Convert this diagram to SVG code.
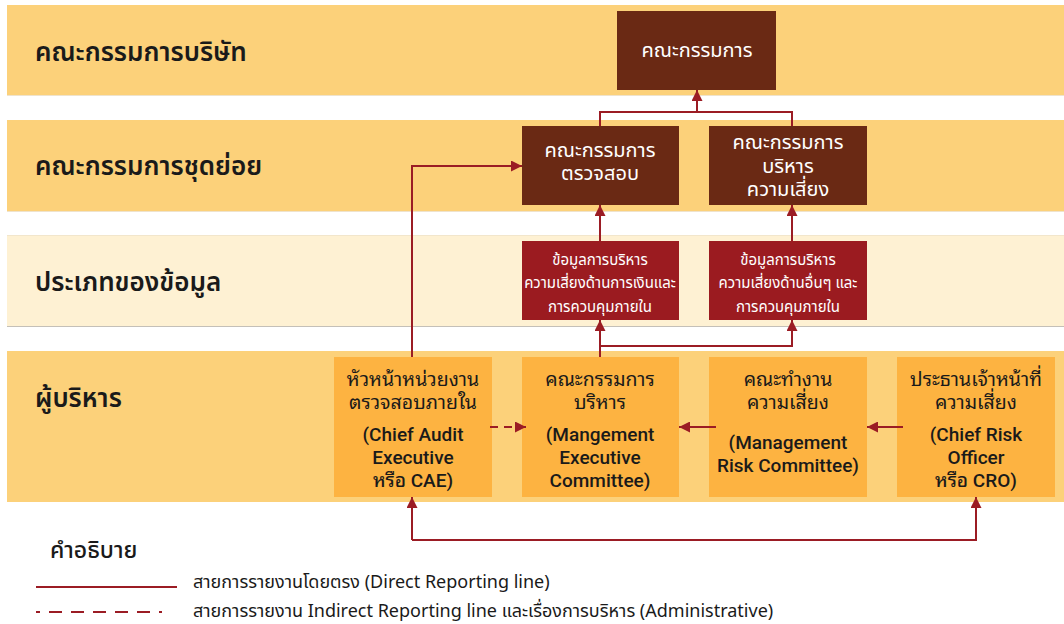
<svg xmlns="http://www.w3.org/2000/svg" width="1064" height="624" viewBox="0 0 1064 624">
<defs>
<style>
.band{fill:#FCD17A}
.bandl{fill:#FEF1D3}
.blabel{font-family:"Noto Sans Thai","Noto Sans Thai Looped","Noto Sans","DejaVu Sans",sans-serif;font-size:26px;font-weight:600;fill:#1a1a1a}
.brown{fill:#6A2914}
.red{fill:#9B1B20}
.orange{fill:#FDB341}
.wt{font-family:"Noto Sans Thai","Noto Sans Thai Looped","Noto Sans","DejaVu Sans",sans-serif;fill:#ffffff;text-anchor:middle}
.th{font-family:"Noto Sans Thai Looped","Noto Sans Thai","Noto Sans","DejaVu Sans",sans-serif;font-size:19.5px;fill:#1a1a1a;text-anchor:middle}
.en{font-family:Roboto,"Liberation Sans","Noto Sans Thai Looped","Noto Sans Thai",sans-serif;font-size:19px;font-weight:500;fill:#1a1a1a;text-anchor:middle}
.conn{fill:none;stroke:#9B1C24;stroke-width:2}
.dash{stroke-dasharray:8 6}
.leg{font-family:"Noto Sans Thai","Noto Sans Thai Looped","Noto Sans",sans-serif;font-size:18px;fill:#1a1a1a}
.legt{font-family:"Noto Sans Thai","Noto Sans Thai Looped","Noto Sans",sans-serif;font-size:23px;font-weight:500;fill:#1a1a1a}
</style>
<marker id="arr" viewBox="0 0 10 10" refX="10" refY="5" markerWidth="11" markerHeight="11" markerUnits="userSpaceOnUse" orient="auto">
<path d="M0,0 L10,5 L0,10 z" fill="#9B1C24"/>
</marker>
</defs>
<rect width="1064" height="624" fill="#ffffff"/>

<g id="bands">
<rect class="band" x="7" y="5" width="1057" height="90"/>
<line x1="7" y1="95.5" x2="1064" y2="95.5" stroke="#EFE3CC" stroke-width="1"/>
<rect class="band" x="7" y="120" width="1057" height="91"/>
<line x1="7" y1="211.5" x2="1064" y2="211.5" stroke="#EFE3CC" stroke-width="1"/>
<rect class="bandl" x="7" y="235" width="1057" height="91"/>
<line x1="7" y1="235.5" x2="1064" y2="235.5" stroke="#F2E6CC" stroke-width="1"/>
<line x1="7" y1="326.5" x2="1064" y2="326.5" stroke="#C4C0B8" stroke-width="1"/>
<rect class="band" x="7" y="351" width="1057" height="151"/>
<text class="blabel" x="35" y="61">คณะกรรมการบริษัท</text>
<text class="blabel" x="35" y="175">คณะกรรมการชุดย่อย</text>
<text class="blabel" x="35" y="291">ประเภทของข้อมูล</text>
<text class="blabel" x="35" y="407">ผู้บริหาร</text>
</g>

<g id="board">
<rect class="brown" x="617" y="11" width="159" height="79"/>
<text class="wt" x="697" y="57" font-size="20">คณะกรรมการ</text>
</g>

<g id="audit-committee">
<rect class="brown" x="522" y="126" width="157" height="79"/>
<text class="wt" x="600" y="157" font-size="20">คณะกรรมการ</text>
<text class="wt" x="600" y="180" font-size="20">ตรวจสอบ</text>
</g>

<g id="risk-committee">
<rect class="brown" x="709" y="126" width="158" height="79"/>
<text class="wt" x="788" y="149" font-size="20">คณะกรรมการ</text>
<text class="wt" x="788" y="173" font-size="20">บริหาร</text>
<text class="wt" x="788" y="196" font-size="20">ความเสี่ยง</text>
</g>

<g id="info-financial">
<rect class="red" x="522" y="241" width="157" height="79"/>
<text class="wt" x="600" y="265" font-size="15">ข้อมูลการบริหาร</text>
<text class="wt" x="600" y="288" font-size="15">ความเสี่ยงด้านการเงินและ</text>
<text class="wt" x="600" y="312" font-size="15">การควบคุมภายใน</text>
</g>

<g id="info-other">
<rect class="red" x="709" y="241" width="158" height="79"/>
<text class="wt" x="788" y="265" font-size="15">ข้อมูลการบริหาร</text>
<text class="wt" x="788" y="288" font-size="15">ความเสี่ยงด้านอื่นๆ และ</text>
<text class="wt" x="788" y="312" font-size="15">การควบคุมภายใน</text>
</g>

<g id="cae">
<rect class="orange" x="334" y="357" width="158" height="140"/>
<text class="th" x="413" y="386">หัวหน้าหน่วยงาน</text>
<text class="th" x="413" y="409">ตรวจสอบภายใน</text>
<text class="en" x="413" y="441">(Chief Audit</text>
<text class="en" x="413" y="464">Executive</text>
<text class="en" x="413" y="487">หรือ CAE)</text>
</g>

<g id="mec">
<rect class="orange" x="522" y="357" width="157" height="140"/>
<text class="th" x="600" y="386">คณะกรรมการ</text>
<text class="th" x="600" y="409">บริหาร</text>
<text class="en" x="600" y="441">(Mangement</text>
<text class="en" x="600" y="464">Executive</text>
<text class="en" x="600" y="487">Committee)</text>
</g>

<g id="mrc">
<rect class="orange" x="709" y="357" width="158" height="140"/>
<text class="th" x="788" y="386">คณะทำงาน</text>
<text class="th" x="788" y="409">ความเสี่ยง</text>
<text class="en" x="788" y="449">(Management</text>
<text class="en" x="788" y="472">Risk Committee)</text>
</g>

<g id="cro">
<rect class="orange" x="897" y="357" width="158" height="140"/>
<text class="th" x="976" y="386">ประธานเจ้าหน้าที่</text>
<text class="th" x="976" y="409">ความเสี่ยง</text>
<text class="en" x="976" y="441">(Chief Risk</text>
<text class="en" x="976" y="464">Officer</text>
<text class="en" x="976" y="487">หรือ CRO)</text>
</g>

<g id="connectors">
<path class="conn" d="M600,126 V112 H792 V126"/>
<path class="conn" d="M697,112 V90" marker-end="url(#arr)"/>
<path class="conn" d="M600,241 V205" marker-end="url(#arr)"/>
<path class="conn" d="M792,241 V205" marker-end="url(#arr)"/>
<path class="conn" d="M600,357 V320" marker-end="url(#arr)"/>
<path class="conn" d="M600,346 H792 V320" marker-end="url(#arr)"/>
<path class="conn" d="M412,357 V166 H522" marker-end="url(#arr)"/>
<path class="conn dash" d="M490,427 H526" marker-end="url(#arr)"/>
<path class="conn" d="M716,427 H679" marker-end="url(#arr)"/>
<path class="conn" d="M903,427 H867" marker-end="url(#arr)"/>
<path class="conn" d="M412,540 V497" marker-end="url(#arr)"/>
<path class="conn" d="M412,540 H976 V497" marker-end="url(#arr)"/>
</g>

<g id="legend">
<text class="legt" x="50" y="558">คำอธิบาย</text>
<line class="conn" x1="36" y1="587" x2="177" y2="587"/>
<text class="leg" x="193" y="588">สายการรายงานโดยตรง (Direct Reporting line)</text>
<line class="conn" x1="36" y1="612" x2="162" y2="612" stroke-dasharray="4 9 13 9 13 9 13 9 13 9 13 9 13"/>
<text class="leg" x="193" y="617">สายการรายงาน Indirect Reporting line และเรื่องการบริหาร (Administrative)</text>
</g>
</svg>
